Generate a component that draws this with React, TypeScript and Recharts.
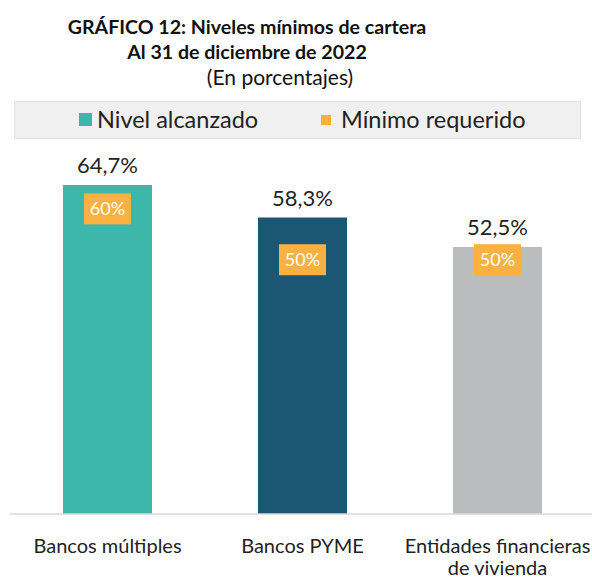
import React from "react";
import { ComposedChart, Bar, Line, XAxis, YAxis, Cell, LabelList } from "recharts";

const categories = ["Bancos múltiples", "Bancos PYME", "Entidades financieras de vivienda"];
const nivelAlcanzado = [64.7, 58.3, 52.5];
const minimoRequerido = [60, 50, 50];

const BAR_COLORS = ["#3cb7aa", "#1b5674", "#bbbcbe"];
const ORANGE = "#fbb042";
const FONT = "Lato, 'Open Sans', sans-serif";

const data = categories.map((c, i) => ({
  name: c,
  nivel: nivelAlcanzado[i],
  minimo: minimoRequerido[i],
}));

const fmt = (v: number) => v.toFixed(1).replace(".", ",") + "%";

function wrap(label: string, max: number): string[] {
  const words = label.split(" ");
  const lines: string[] = [];
  let cur = "";
  for (const w of words) {
    const t = cur ? cur + " " + w : w;
    if (t.length > max && cur) {
      lines.push(cur);
      cur = w;
    } else cur = t;
  }
  if (cur) lines.push(cur);
  return lines;
}

const CatTick = (props: any) => {
  const { x, y, payload } = props;
  const lines = wrap(String(payload.value), 22);
  return (
    <g>
      {lines.map((l, i) => (
        <text
          key={i}
          x={x}
          y={y}
          dy={31 + i * 22}
          textAnchor="middle"
          fill="#222"
          fontSize={20}
          fontFamily={FONT}
        >
          {l}
        </text>
      ))}
    </g>
  );
};

const MinDot = (props: any) => {
  const { cx, cy, value, index } = props;
  if (cx == null || cy == null) return <g key={index} />;
  return (
    <g key={"d" + index}>
      <rect x={cx - 23.5} y={cy - 15.5} width={47} height={31} fill={ORANGE} />
      <text
        x={cx}
        y={cy}
        dy={6}
        textAnchor="middle"
        fill="#ffffff"
        fontSize={18}
        fontFamily={FONT}
      >
        {value}%
      </text>
    </g>
  );
};

export default function App() {
  return (
    <div
      style={{
        position: "absolute",
        left: 0,
        top: 0,
        width: 592,
        height: 578,
        background: "#ffffff",
        fontFamily: FONT,
        overflow: "hidden",
      }}
    >
      <div
        style={{
          position: "absolute",
          left: 0,
          width: 494,
          top: 14,
          textAlign: "center",
          fontWeight: 700,
          fontSize: 19.6,
          lineHeight: "25px",
          color: "#111",
        }}
      >
        <div>GRÁFICO 12: Niveles mínimos de cartera</div>
        <div>Al 31 de diciembre de 2022</div>
      </div>
      <div
        style={{
          position: "absolute",
          left: 0,
          width: 560,
          top: 64,
          textAlign: "center",
          fontSize: 21,
          lineHeight: "26px",
          color: "#111",
        }}
      >
        (En porcentajes)
      </div>
      <div
        style={{
          position: "absolute",
          left: 14,
          top: 101,
          width: 565,
          height: 36,
          background: "#f0f0f0",
          border: "1px solid #e2e2e2",
        }}
      />
      <div style={{ position: "absolute", left: 79, top: 113, width: 13, height: 13, background: BAR_COLORS[0] }} />
      <div
        style={{ position: "absolute", left: 97, top: 105, fontSize: 23.5, lineHeight: "28px", color: "#222" }}
      >
        Nivel alcanzado
      </div>
      <div style={{ position: "absolute", left: 321, top: 115, width: 10, height: 10, background: ORANGE }} />
      <div
        style={{ position: "absolute", left: 341, top: 105, fontSize: 23.5, lineHeight: "28px", color: "#222" }}
      >
        Mínimo requerido
      </div>
      <div style={{ position: "absolute", left: 0, top: 0 }}>
        <ComposedChart
          width={592}
          height={578}
          data={data}
          margin={{ top: 158, right: -3, left: 10, bottom: 0 }}
        >
          <XAxis
            dataKey="name"
            height={64}
            interval={0}
            tickLine={false}
            axisLine={{ stroke: "#d9d9d9", strokeWidth: 1.5 }}
            tick={<CatTick />}
          />
          <YAxis hide domain={[0, 70]} />
          <Bar dataKey="nivel" barSize={89} isAnimationActive={false}>
            {data.map((d, i) => (
              <Cell key={i} fill={BAR_COLORS[i]} />
            ))}
            <LabelList
              dataKey="nivel"
              position="top"
              offset={12}
              formatter={(v: any) => fmt(Number(v))}
              fill="#222"
              fontSize={22}
              fontFamily={FONT}
            />
          </Bar>
          <Line
            dataKey="minimo"
            stroke="none"
            isAnimationActive={false}
            dot={<MinDot />}
            activeDot={false}
          />
        </ComposedChart>
      </div>
    </div>
  );
}
